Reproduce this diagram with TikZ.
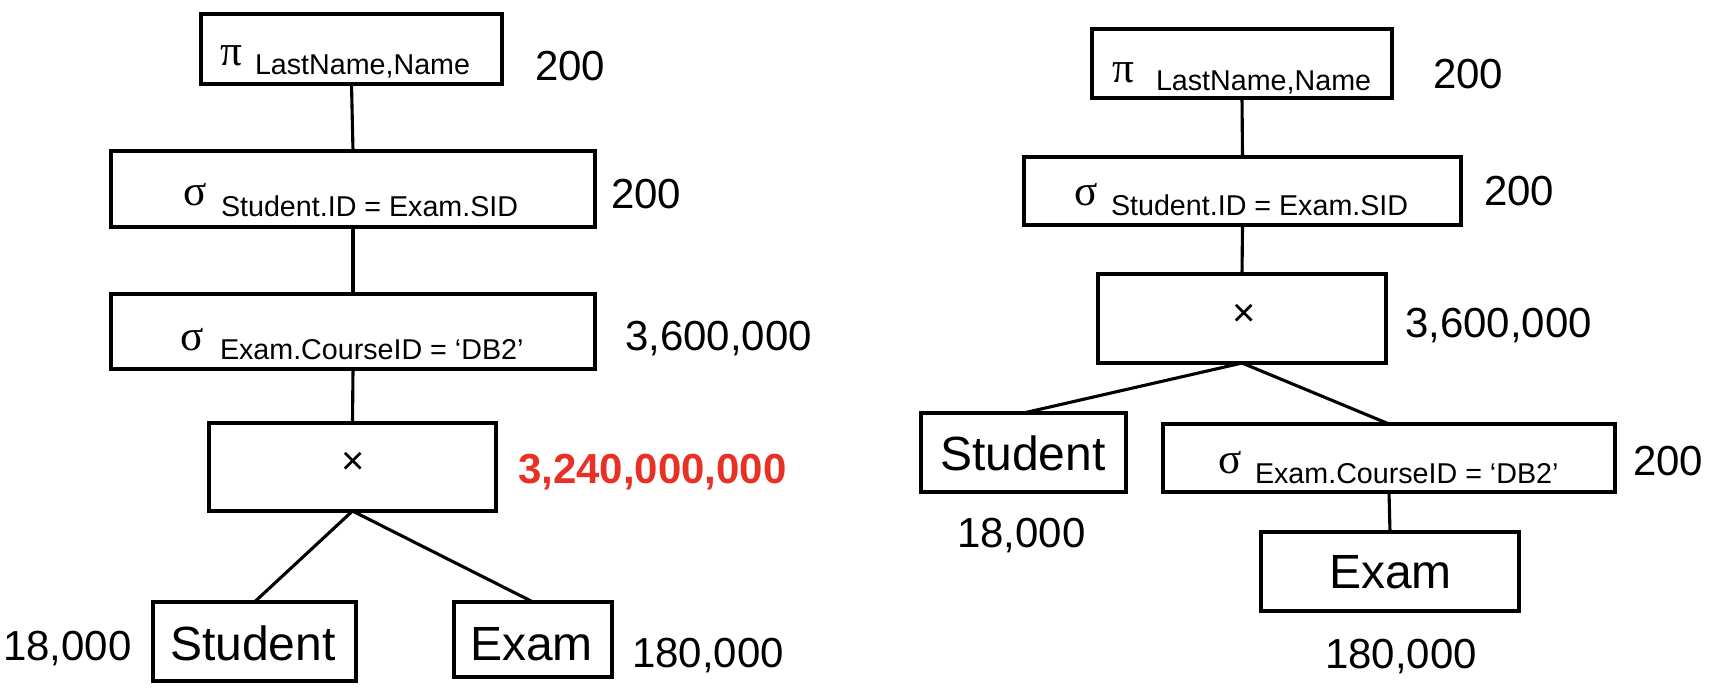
\documentclass[tikz,border=0pt]{standalone}
\usepackage{fontspec}
\setmainfont{Liberation Sans}
\newfontfamily\grfont{Liberation Serif}
\definecolor{cardred}{RGB}{232,48,36}
\newcommand\fnum{\fontsize{18.9pt}{20pt}\selectfont}
\newcommand\fsub{\fontsize{12.9pt}{14pt}\selectfont}
\newcommand\frel{\fontsize{21.6pt}{24pt}\selectfont}
\newcommand\fgr{\grfont\fontsize{19.5pt}{21pt}\selectfont}
\newcommand\ftimes{\fontsize{18pt}{20pt}\selectfont}
\newcommand\mybox[5]{\node[opbox, minimum width={(#4-#2)*0.45pt}, minimum height={(#5-#3)*0.45pt}] (#1) at ({(#2+#4)/2},{(#3+#5)/2}) {};}
\newcommand\mytxt[5]{\node[txt, font=#4] (#1) at (#2,#3) {#5};}
\begin{document}
\begin{tikzpicture}[x=0.45pt, y=-0.45pt,
  opbox/.style={draw=black, line width=1.4pt, rectangle, inner sep=0pt, outer sep=0pt},
  txt/.style={anchor=base west, inner sep=0pt, outer sep=0pt},
  conn/.style={draw=black, line width=1.4pt}]
\useasboundingbox (0,0) rectangle (1714,690);
% ---------------- left tree ----------------
\mybox{lpi}{201}{14}{502}{84}
\mybox{lss}{111}{151}{595}{227}
\mybox{lse}{111}{294}{595}{369}
\mybox{lx}{209}{423}{496}{511}
\mybox{lst}{153}{602}{356}{681}
\mybox{lex}{454}{602}{612}{677}
\mytxt{lpig}{220}{65}{\fgr}{π}
\mytxt{lpis}{255}{74}{\fsub}{LastName,Name}
\mytxt{lssg}{183}{205}{\fgr}{σ}
\mytxt{lsss}{221}{216}{\fsub}{Student.ID = Exam.SID}
\mytxt{lseg}{180}{350}{\fgr}{σ}
\mytxt{lses}{220}{359}{\fsub}{Exam.CourseID = ‘DB2’}
\node[inner sep=0pt, font=\ftimes] (lxt) at (353,463) {×};
\mytxt{lstt}{170}{660}{\frel}{Student}
\mytxt{lext}{470}{660}{\frel}{Exam}
\mytxt{lpin}{535}{80}{\fnum}{200}
\mytxt{lssn}{611}{208}{\fnum}{200}
\mytxt{lsen}{625}{350}{\fnum}{3,600,000}
\mytxt{lxn}{518}{483}{\fnum\bfseries\color{cardred}}{3,240,000,000}
\mytxt{lstn}{3}{660}{\fnum}{18,000}
\mytxt{lexn}{632}{667}{\fnum}{180,000}
\draw[conn] (lpi.south) -- (lss.north);
\draw[conn] (lss.south) -- (lse.north);
\draw[conn] (lse.south) -- (lx.north);
\draw[conn] (lx.south) -- (lst.north);
\draw[conn] (lx.south) -- (lex.north);
% ---------------- right tree ----------------
\mybox{rpi}{1092}{29}{1392}{98}
\mybox{rss}{1024}{157}{1461}{225}
\mybox{rx}{1098}{274}{1386}{363}
\mybox{rst}{921}{413}{1126}{492}
\mybox{rse}{1163}{424}{1615}{492}
\mybox{rex}{1261}{532}{1519}{611}
\mytxt{rpig}{1112}{82}{\fgr}{π}
\mytxt{rpis}{1156}{90}{\fsub}{LastName,Name}
\mytxt{rssg}{1074}{205}{\fgr}{σ}
\mytxt{rsss}{1111}{215}{\fsub}{Student.ID = Exam.SID}
\node[inner sep=0pt, font=\ftimes] (rxt) at (1244,315) {×};
\mytxt{rstt}{940}{470}{\frel}{Student}
\mytxt{rseg}{1218}{473}{\fgr}{σ}
\mytxt{rses}{1255}{483}{\fsub}{Exam.CourseID = ‘DB2’}
\mytxt{rext}{1329}{588}{\frel}{Exam}
\mytxt{rpin}{1433}{88}{\fnum}{200}
\mytxt{rssn}{1484}{205}{\fnum}{200}
\mytxt{rxn}{1405}{337}{\fnum}{3,600,000}
\mytxt{rstn}{957}{547}{\fnum}{18,000}
\mytxt{rsen}{1633}{475}{\fnum}{200}
\mytxt{rexn}{1325}{668}{\fnum}{180,000}
\draw[conn] (rpi.south) -- (rss.north);
\draw[conn] (rss.south) -- (rx.north);
\draw[conn] (rx.south) -- (rst.north);
\draw[conn] (rx.south) -- (rse.north);
\draw[conn] (rse.south) -- (rex.north);
\end{tikzpicture}
\end{document}
